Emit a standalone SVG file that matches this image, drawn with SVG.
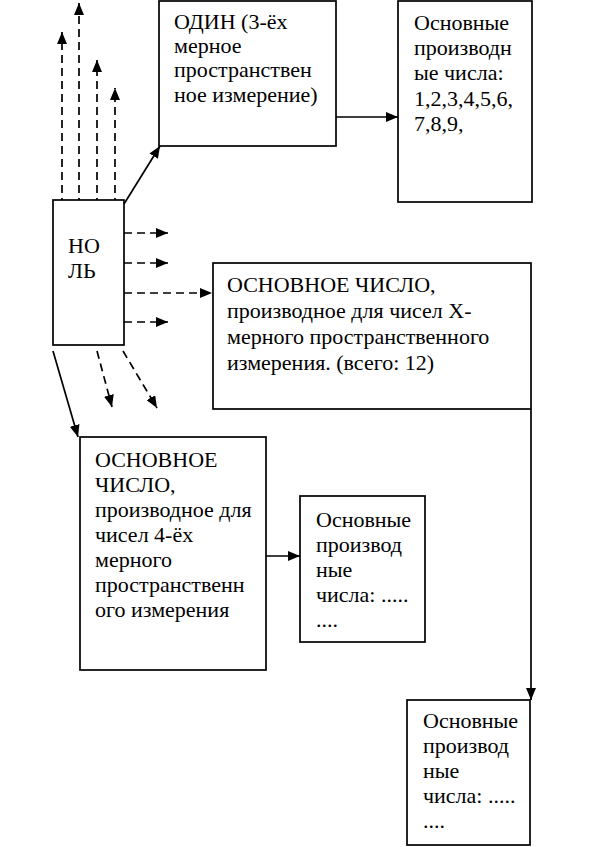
<svg xmlns="http://www.w3.org/2000/svg" width="591" height="847" viewBox="0 0 591 847">
<style>
.box{fill:#fff;stroke:#000;stroke-width:1.7}
.t{font-family:"Liberation Serif","Times New Roman",serif;font-size:22px;fill:#000}
.c{fill:none;stroke:#000;stroke-width:1.7}
.d{stroke-dasharray:8,5}
</style>
<defs>
<marker id="ah" markerUnits="userSpaceOnUse" markerWidth="12" markerHeight="10" refX="12" refY="5" orient="auto">
<path d="M0,0 L12,5 L0,10 z" fill="#000"/>
</marker>
</defs>
<rect width="591" height="847" fill="#fff"/>
<g id="connectors">
<line class="c d" x1="62" y1="206" x2="62" y2="32" marker-end="url(#ah)"/>
<line class="c d" x1="79" y1="206" x2="79" y2="3" marker-end="url(#ah)"/>
<line class="c d" x1="97" y1="206" x2="97" y2="60" marker-end="url(#ah)"/>
<line class="c d" x1="115" y1="206" x2="115" y2="88" marker-end="url(#ah)"/>
<line class="c d" x1="124" y1="233" x2="168" y2="233" marker-end="url(#ah)"/>
<line class="c d" x1="124" y1="263" x2="168" y2="263" marker-end="url(#ah)"/>
<line class="c d" x1="124" y1="293" x2="212" y2="293" marker-end="url(#ah)"/>
<line class="c d" x1="124" y1="322" x2="168" y2="322" marker-end="url(#ah)"/>
<line class="c d" x1="97" y1="351" x2="112" y2="407" marker-end="url(#ah)"/>
<line class="c d" x1="123" y1="351" x2="157" y2="408" marker-end="url(#ah)"/>
<line class="c" x1="124" y1="204" x2="160" y2="146" marker-end="url(#ah)"/>
<line class="c" x1="53" y1="351" x2="78" y2="437" marker-end="url(#ah)"/>
<line class="c" x1="336" y1="117" x2="398" y2="117" marker-end="url(#ah)"/>
<line class="c" x1="531" y1="409" x2="531" y2="700" marker-end="url(#ah)"/>
<line class="c" x1="266" y1="556" x2="300" y2="556" marker-end="url(#ah)"/>
</g>
<g id="nol">
<rect class="box" x="53" y="200" width="71" height="145"/>
<text class="t" x="68" y="253">НО</text>
<text class="t" x="68" y="278">ЛЬ</text>
</g>
<g id="odin">
<rect class="box" x="159" y="1" width="177" height="145"/>
<text class="t" x="174" y="29">ОДИН (3-ёх</text>
<text class="t" x="174" y="53">мерное</text>
<text class="t" x="174" y="77">пространствен</text>
<text class="t" x="174" y="102">ное измерение)</text>
</g>
<g id="osn1">
<rect class="box" x="398" y="1" width="134" height="201"/>
<text class="t" x="414" y="30">Основные</text>
<text class="t" x="414" y="55">производн</text>
<text class="t" x="414" y="80">ые числа:</text>
<text class="t" x="414" y="106">1,2,3,4,5,6,</text>
<text class="t" x="414" y="131">7,8,9,</text>
</g>
<g id="chisloX">
<rect class="box" x="213" y="263" width="318" height="146"/>
<text class="t" x="227" y="292">ОСНОВНОЕ ЧИСЛО,</text>
<text class="t" x="227" y="318">производное для чисел Х-</text>
<text class="t" x="227" y="344">мерного пространственного</text>
<text class="t" x="227" y="370">измерения. (всего: 12)</text>
</g>
<g id="chislo4">
<rect class="box" x="80" y="437" width="186" height="233"/>
<text class="t" x="95" y="467">ОСНОВНОЕ</text>
<text class="t" x="95" y="492">ЧИСЛО,</text>
<text class="t" x="95" y="517">производное для</text>
<text class="t" x="95" y="542">чисел 4-ёх</text>
<text class="t" x="95" y="567">мерного</text>
<text class="t" x="95" y="592">пространственн</text>
<text class="t" x="95" y="617">ого измерения</text>
</g>
<g id="osn2">
<rect class="box" x="300" y="496" width="125" height="146"/>
<text class="t" x="316" y="527">Основные</text>
<text class="t" x="316" y="552">производ</text>
<text class="t" x="316" y="577">ные</text>
<text class="t" x="316" y="602">числа: .....</text>
<text class="t" x="316" y="627">....</text>
</g>
<g id="osn3">
<rect class="box" x="407" y="700" width="123" height="145"/>
<text class="t" x="423" y="728">Основные</text>
<text class="t" x="423" y="753">производ</text>
<text class="t" x="423" y="778">ные</text>
<text class="t" x="423" y="803">числа: .....</text>
<text class="t" x="423" y="828">....</text>
</g>
</svg>
